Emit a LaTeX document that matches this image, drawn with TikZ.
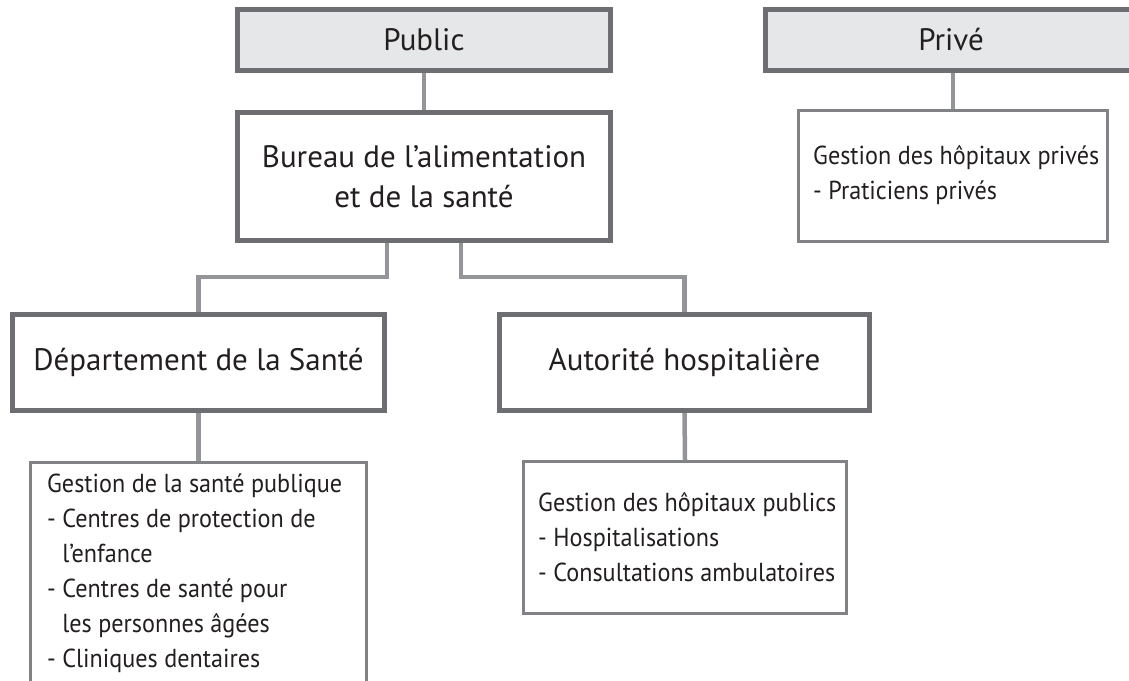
\documentclass[tikz,border=0pt]{standalone}
\usepackage{fontspec}
\setmainfont{PT Sans}
\newfontfamily\narrowfont[FakeStretch=0.93]{PT Sans}
\definecolor{boxline}{HTML}{6D6E71}
\definecolor{thinline}{HTML}{808285}
\definecolor{conn}{HTML}{939598}
\definecolor{headfill}{HTML}{E6E7E8}
\definecolor{ink}{HTML}{231F20}
\tikzset{
  thickbox/.style={draw=boxline, line width=5pt, fill=white, inner sep=0pt, text=ink, align=center},
  headbox/.style={thickbox, fill=headfill},
  thinbox/.style={draw=thinline, line width=2.8pt, fill=white, inner sep=0pt},
  conline/.style={draw=conn, line width=4.5pt},
  bigtxt/.style={font=\fontsize{31}{40}\selectfont},
  smalltxt/.style={font=\narrowfont\fontsize{26}{35}\selectfont, text=ink, align=left, inner sep=0pt},
}
\begin{document}
\begin{tikzpicture}[x=1pt, y=-1pt]
\useasboundingbox (0,0) rectangle (1129,680);
\clip (0,0) rectangle (1129,680);
% header boxes
\node[headbox, bigtxt, minimum width=373pt, minimum height=61pt] (pub) at (424,40) {Public};
\node[headbox, bigtxt, minimum width=371pt, minimum height=61pt] (priv) at (951,40) {Privé};
% second level
\node[thickbox, bigtxt, minimum width=373pt, minimum height=128pt] (bur) at (424,176.5) {Bureau de l’alimentation\\et de la santé};
\node[thinbox, minimum width=309pt, minimum height=131pt] (ps) at (953,176) {};
% third level
\node[thickbox, bigtxt, minimum width=372pt, minimum height=96pt] (dep) at (198.5,362.5) {Département de la Santé};
\node[thickbox, bigtxt, minimum width=370pt, minimum height=96pt] (aut) at (684.5,362.5) {Autorité hospitalière};
% fourth level
\node[thinbox, minimum width=336pt, minimum height=300pt, anchor=north] (sp) at (198.5,461.4) {};
\node[thinbox, minimum width=323pt, minimum height=152pt] (hp) at (685,537.5) {};
% connectors
\coordinate (bl) at ([xshift=-37pt]bur.south);
\coordinate (br) at ([xshift=37pt]bur.south);
\coordinate (hl) at (0,277);
\draw[conline] (pub.south) -- (bur.north);
\draw[conline] (priv.south -| ps.north) -- (ps.north);
\draw[conline] (bl) -- (bl |- hl) -| (dep.north);
\draw[conline] (br) -- (br |- hl) -| (aut.north);
\draw[conline] (dep.south) -- (sp.north);
\draw[conline] (aut.south) -- (hp.north);
% texts
\node[smalltxt, anchor=west] (pst) at (813,175) {Gestion des hôpitaux privés\\- Praticiens privés};
\node[smalltxt, anchor=north west] (spt) at (47,474) {Gestion de la santé publique\\- Centres de protection de\\\phantom{- }l’enfance\\- Centres de santé pour\\\phantom{- }les personnes âgées\\- Cliniques dentaires};
\node[smalltxt, anchor=west] (hpt) at (538,537) {Gestion des hôpitaux publics\\- Hospitalisations\\- Consultations ambulatoires};
\end{tikzpicture}
\end{document}
